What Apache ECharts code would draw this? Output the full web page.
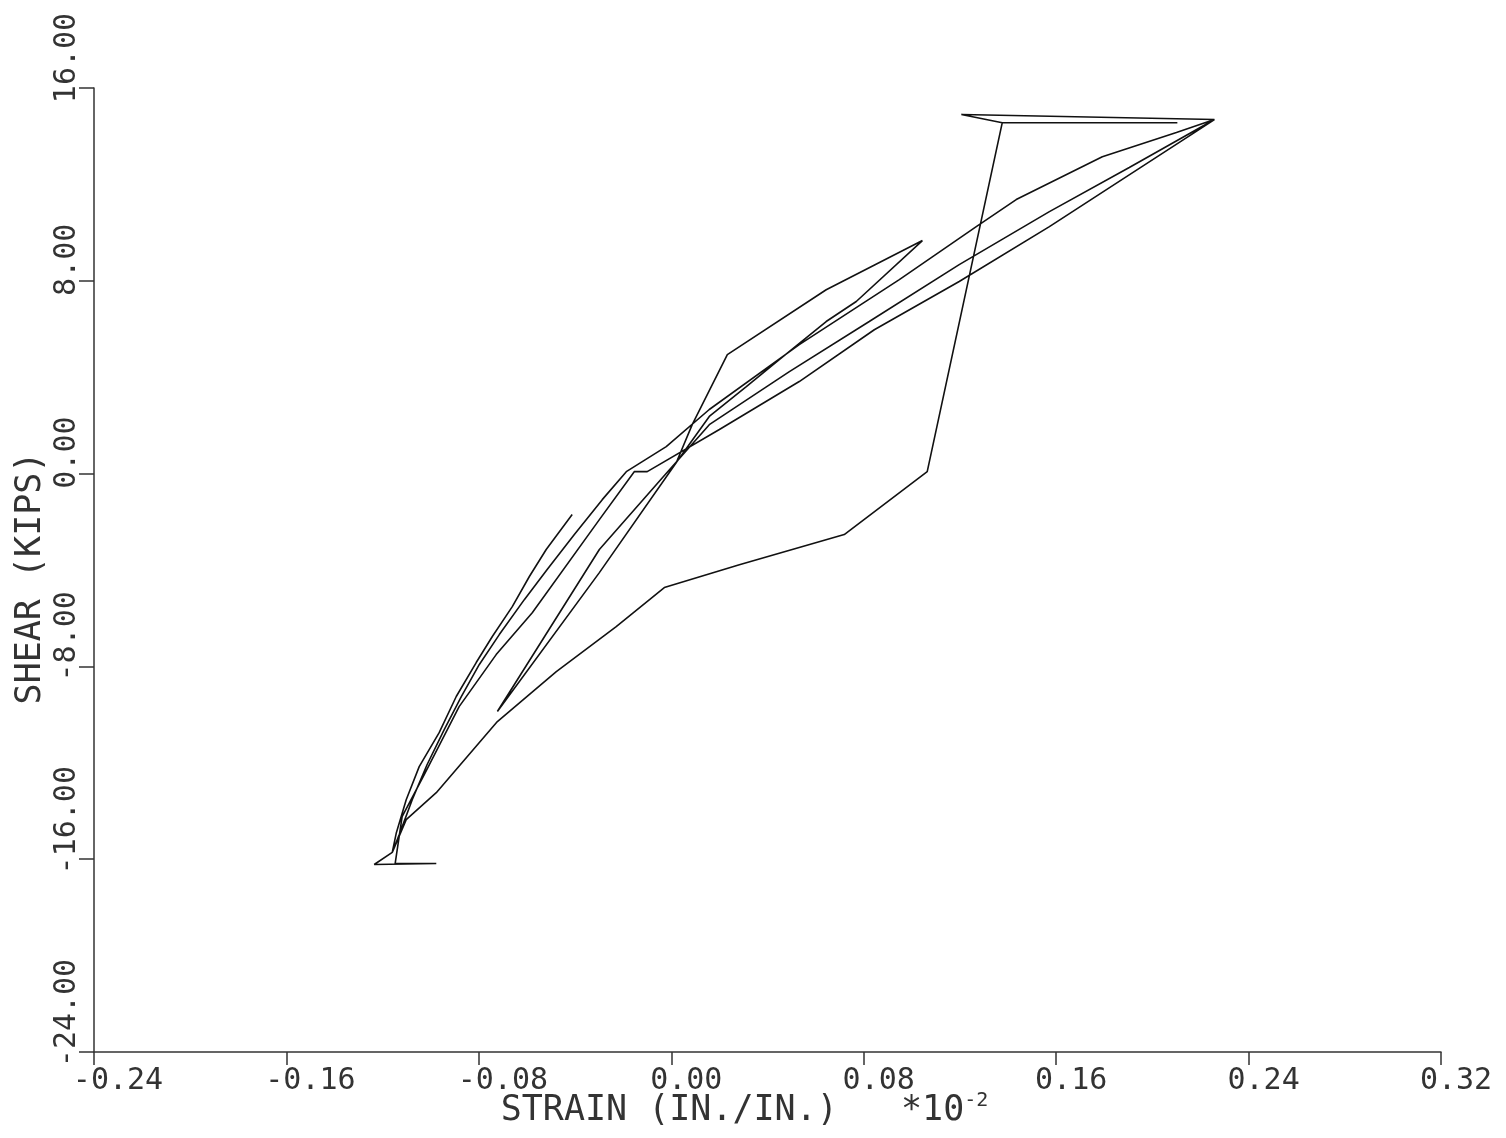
<!DOCTYPE html>
<html><head><meta charset="utf-8">
<script src="https://cdn.jsdelivr.net/npm/echarts@6/dist/echarts.min.js"></script>
<style>html,body{margin:0;padding:0;background:#fff}#c{width:1506px;height:1138px}</style>
</head><body><div id="c"></div>
<script>
// strain (in./in. x 10^-2) and shear (kips), in plotting order
const strain = [
  0, 0.0158, 0.0312, 0.0449, 0.0644, 0.0769, 0.1044,
  0.0644, 0.0233, 0.0087, 0.0021, -0.0299, -0.0723,
  -0.0299, -0.0037, 0.0158, 0.0491, 0.0823, 0.1197, 0.1572, 0.1904, 0.2258,
  0.1206, 0.1376, 0.2104, 0.1376, 0.1064, 0.0719, 0.0283, -0.0029, -0.0229, -0.0478, -0.0723, -0.0977, -0.1102, -0.1160, -0.1235, -0.0977, -0.1148,
  -0.1119, -0.1027, -0.0882, -0.0728, -0.0578, -0.0299, -0.0154, -0.0100, 0.0200, 0.0532, 0.0844, 0.1197, 0.1572, 0.2258,
  0.2100, 0.1792, 0.1434, 0.1268, 0.0948, 0.0532, 0.0158, -0.0021, -0.0187, -0.0287, -0.0403, -0.0516, -0.0611, -0.0715, -0.0798, -0.0873, -0.0944, -0.1015, -0.1077, -0.1131, -0.1160,
  -0.1143, -0.1102, -0.1048, -0.0965, -0.0894, -0.0811, -0.0744, -0.0661, -0.0590, -0.0520, -0.0412
];
const shear = [
  0.17, 2.37, 3.61, 4.73, 6.31, 7.14, 9.67,
  7.63, 4.94, 2.03, 0.46, -4.11, -9.87,
  -3.15, -0.17, 2.03, 4.23, 6.31, 8.67, 10.87, 12.70, 14.69,
  14.90, 14.56, 14.56, 14.56, 0.08, -2.53, -3.78, -4.73, -6.35, -8.22, -10.29, -13.24, -14.36, -15.72, -16.22, -16.18, -16.18,
  -14.23, -12.49, -9.67, -7.51, -5.77, -1.91, 0.08, 0.08, 1.83, 3.82, 5.97, 7.97, 10.25, 14.69,
  14.15, 13.15, 11.37, 10.25, 8.05, 5.35, 2.66, 1.12, 0.08, -1.08, -2.53, -3.98, -5.23, -6.68, -7.92, -9.25, -10.62, -12.07, -13.53, -14.98, -15.72,
  -14.90, -13.53, -12.16, -10.75, -9.25, -7.84, -6.76, -5.52, -4.27, -3.15, -1.70
];
const xRange = [-0.24, 0.32], xStep = 0.08;
const yRange = [-24, 16], yStep = 8;
const xTitle = 'STRAIN (IN./IN.)   *10';
const xTitleExp = '-2';
const yTitle = 'SHEAR (KIPS)';

const FONT = 'DejaVu Sans Mono';
const INK = '#333';
const pts = strain.map((s, i) => [s, shear[i]]);

function fmt(v){ if (Math.abs(v) < 1e-9) v = 0; const t = v.toFixed(2); return '{l' + t.length + '|' + t + '}'; }
function richFor(fs, pitch, startOff){
  const r = {};
  for (let n = 3; n <= 7; n++) {
    const w = n * pitch;
    r['l' + n] = {fontFamily: FONT, fontSize: fs, color: INK, padding: [0, 0, 0, Math.max(0, w - 2*startOff)]};
  }
  return r;
}

const chart = echarts.init(document.getElementById('c'), null, {renderer: 'canvas'});
chart.setOption({
  backgroundColor: '#fff',
  animation: false,
  grid: {left: 94, right: 65, top: 88, bottom: 86, containLabel: false, outerBoundsMode: 'none'},
  xAxis: {
    type: 'value', min: xRange[0], max: xRange[1], interval: xStep,
    axisLine: {show: true, onZero: false, lineStyle: {color: INK, width: 1.5}},
    axisTick: {show: true, inside: false, length: 13, lineStyle: {color: INK, width: 1.5}},
    splitLine: {show: false},
    axisLabel: {margin: 14, formatter: fmt, align: 'center', hideOverlap: false, rich: richFor(30, 18, 21)},
    name: xTitle + '{sup|' + xTitleExp + '}',
    nameLocation: 'middle', nameGap: 39, nameMoveOverlap: false,
    nameTextStyle: {fontFamily: FONT, fontSize: 35, color: INK, lineHeight: 40, padding: [0, 46, 0, 0],
      rich: {sup: {fontFamily: FONT, fontSize: 20, color: INK, verticalAlign: 'top', lineHeight: 20}}}
  },
  yAxis: {
    type: 'value', min: yRange[0], max: yRange[1], interval: yStep,
    axisLine: {show: true, onZero: false, lineStyle: {color: INK, width: 1.5}},
    axisTick: {show: true, inside: false, length: 15, lineStyle: {color: INK, width: 1.5}},
    splitLine: {show: false},
    axisLabel: {margin: 12, rotate: 90, align: 'center', verticalAlign: 'bottom', hideOverlap: false, formatter: fmt, rich: richFor(30, 18, 15)},
    name: yTitle,
    nameLocation: 'middle', nameGap: 43, nameRotate: 90, nameMoveOverlap: false,
    nameTextStyle: {fontFamily: FONT, fontSize: 35, color: INK, lineHeight: 40, padding: [0, 16, 0, 0]}
  },
  series: [{
    type: 'line', data: pts, showSymbol: false, symbol: 'none', smooth: false,
    lineStyle: {color: '#111', width: 1.6}, clip: false
  }]
});
</script></body></html>
